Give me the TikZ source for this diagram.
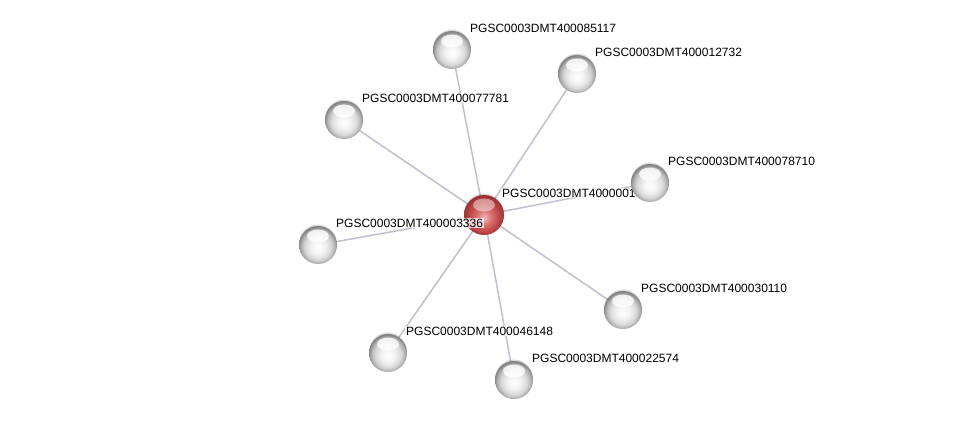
\documentclass[tikz,border=0pt]{standalone}
\usepackage{fontspec}
\setmainfont{Liberation Sans}
\definecolor{edgegray}{RGB}{190,192,208}
\definecolor{redlight}{RGB}{240,190,190}
\definecolor{redmid}{RGB}{218,115,115}
\definecolor{reddark}{RGB}{192,72,72}
\definecolor{rededge}{RGB}{155,48,48}
\pgfdeclareradialshading{gsph}{\pgfpoint{0bp}{-4bp}}{color(0bp)=(white); color(9bp)=(black!5); color(17bp)=(black!15); color(22bp)=(black!30); color(26bp)=(black!50); color(40bp)=(black!50)}
\pgfdeclareradialshading{rsph}{\pgfpoint{0bp}{-4bp}}{color(0bp)=(redlight); color(9bp)=(redmid); color(18bp)=(reddark); color(26bp)=(rededge); color(40bp)=(rededge)}
\begin{document}
\begin{tikzpicture}[x=1pt,y=-1pt,
  grayball/.style={circle, minimum size=38pt, inner sep=0pt, shading=gsph,
    path picture={\fill[white, opacity=0.8] ([yshift=9pt]path picture bounding box.center) ellipse (11pt and 6.5pt);}},
  redball/.style={circle, minimum size=40pt, inner sep=0pt, shading=rsph,
    path picture={\fill[white, opacity=0.45] ([yshift=10pt]path picture bounding box.center) ellipse (11pt and 6.5pt);}},
  shadowc/.style={circle, inner sep=0pt, fill=black, opacity=0.15},
  lbl/.style={anchor=west, inner sep=1pt, fill=white, fill opacity=0.75, text opacity=1, font=\fontsize{12}{14}\selectfont}
]
\useasboundingbox (0,0) rectangle (975,426);
\coordinate (c) at (484,215);
\coordinate (p85117) at (452,50);
\coordinate (p12732) at (577,74);
\coordinate (p77781) at (344,120);
\coordinate (p78710) at (650,183);
\coordinate (p3336) at (318,245);
\coordinate (p30110) at (623,310);
\coordinate (p46148) at (388,353);
\coordinate (p22574) at (514,380);
\foreach \n in {p85117,p12732,p77781,p78710,p3336,p30110,p46148,p22574}
  \draw[draw=edgegray, line width=1.5pt] (c) -- (\n);
\node[shadowc, minimum size=40pt] (s0) at ([yshift=1.5pt]c) {};
\node[redball] (n0) at (c) {};
\node[lbl] (l0) at ([xshift=17pt,yshift=22pt]c) {PGSC0003DMT4000001};
\foreach \n/\t in {p85117/PGSC0003DMT400085117,p12732/PGSC0003DMT400012732,p77781/PGSC0003DMT400077781,p78710/PGSC0003DMT400078710,p3336/PGSC0003DMT400003336,p30110/PGSC0003DMT400030110,p46148/PGSC0003DMT400046148,p22574/PGSC0003DMT400022574}{
  \node[shadowc, minimum size=38pt] (s\n) at ([yshift=1.5pt]\n) {};
  \node[grayball] (b\n) at (\n) {};
  \node[lbl] (l\n) at ([xshift=17pt,yshift=22pt]\n) {\t};
}
\end{tikzpicture}
\end{document}
